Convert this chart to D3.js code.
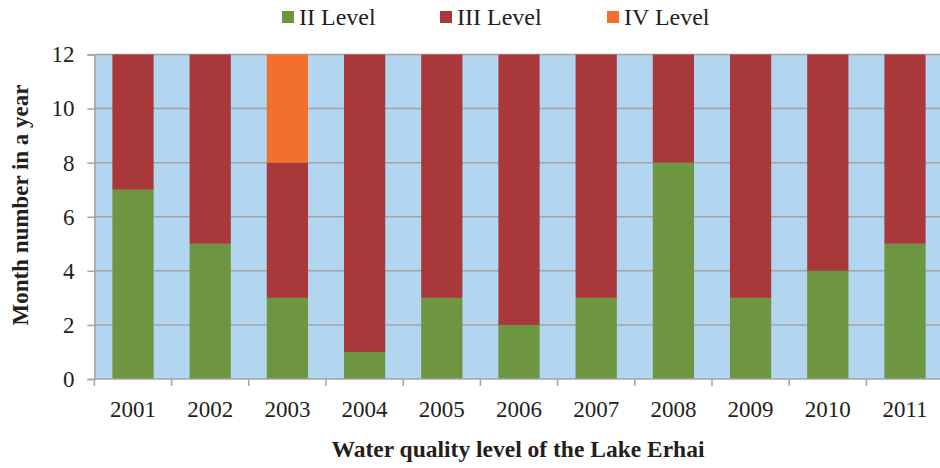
<!DOCTYPE html>
<html>
<head>
<meta charset="utf-8">
<script src="https://cdn.jsdelivr.net/npm/d3@7"></script>
<style>
  html, body { margin: 0; padding: 0; background: #fff; }
  svg { display: block; }
</style>
</head>
<body>
<svg id="chart" width="940" height="468"></svg>
<script>
// Months per year at each water quality level, Lake Erhai 2001-2011
const years = ["2001", "2002", "2003", "2004", "2005", "2006", "2007", "2008", "2009", "2010", "2011"];
const levelII  = [7, 5, 3, 1, 3, 2, 3, 8, 3, 4, 5];
const levelIII = [5, 7, 5, 11, 9, 10, 9, 4, 9, 8, 7];
const levelIV  = [0, 0, 4, 0, 0, 0, 0, 0, 0, 0, 0];
const seriesNames = ["II Level", "III Level", "IV Level"];
const seriesColors = ["#6E9540", "#A9383B", "#F36F2C"];
const yTicks = [0, 2, 4, 6, 8, 10, 12];

const FONT = "Liberation Serif";
const TEXT = "#231F20";
const GRID = "#A3A3A3";

const svg = d3.select("#chart").style("font-family", FONT);
const x0 = 94.4, x1 = 943.6;
const yTop = 54.5, yBot = 379;

const x = d3.scaleBand().domain(years).range([x0, x1]).paddingInner(0.466).paddingOuter(0.233);
const xb = d3.scaleBand().domain(years).range([x0, x1]);
const y = d3.scaleLinear().domain([0, 12]).range([yBot, yTop]);

const rows = years.map((yr, i) => ({ year: yr, s0: levelII[i], s1: levelIII[i], s2: levelIV[i] }));
const stack = d3.stack().keys(["s0", "s1", "s2"])(rows);

// plot background
svg.append("rect").attr("x", x0).attr("y", yTop).attr("width", x1 - x0).attr("height", yBot - yTop)
  .attr("fill", "#B2D5F0");

// horizontal gridlines
svg.append("g").selectAll("line").data(yTicks.filter(t => t > 0)).join("line")
  .attr("x1", x0).attr("x2", x1).attr("y1", d => y(d)).attr("y2", d => y(d))
  .attr("stroke", GRID).attr("stroke-width", 1.5);

// stacked bars
svg.append("g").selectAll("g").data(stack).join("g")
  .attr("fill", (d, i) => seriesColors[i])
  .selectAll("rect").data(d => d.filter(s => s[1] - s[0] > 0)).join("rect")
  .attr("x", d => x(d.data.year)).attr("width", x.bandwidth())
  .attr("y", d => y(d[1])).attr("height", d => y(d[0]) - y(d[1]));

// y axis
const yAxis = svg.append("g").attr("transform", `translate(${x0},0)`)
  .call(d3.axisLeft(y).tickValues(yTicks).tickSize(7).tickPadding(13));
yAxis.attr("font-family", FONT);
yAxis.select(".domain").attr("stroke", GRID).attr("stroke-width", 1.5);
yAxis.selectAll(".tick line").attr("stroke", GRID).attr("stroke-width", 1.5);
yAxis.selectAll(".tick text").style("font-family", FONT).style("font-size", "23px").attr("fill", TEXT);

// x axis with ticks at category boundaries
const xAxisG = svg.append("g").attr("transform", `translate(0,${yBot})`);
xAxisG.append("line").attr("x1", x0).attr("x2", x1).attr("stroke", GRID).attr("stroke-width", 1.5);
xAxisG.selectAll("line.tk").data(years).join("line").attr("class", "tk")
  .attr("x1", d => xb(d)).attr("x2", d => xb(d)).attr("y1", 0).attr("y2", 7)
  .attr("stroke", GRID).attr("stroke-width", 1.5);
xAxisG.selectAll("text").data(years).join("text")
  .attr("x", d => xb(d) + xb.bandwidth() / 2).attr("y", 38)
  .attr("text-anchor", "middle").style("font-family", FONT).style("font-size", "23px").attr("fill", TEXT)
  .text(d => d);

// axis titles
svg.append("text").attr("transform", `translate(28,205) rotate(-90)`)
  .attr("text-anchor", "middle").style("font-family", FONT).style("font-size", "23px")
  .style("font-weight", "bold").attr("fill", TEXT)
  .text("Month number in a year");
svg.append("text").attr("x", 518).attr("y", 457)
  .attr("text-anchor", "middle").style("font-family", FONT).style("font-size", "23.5px")
  .style("font-weight", "bold").attr("fill", TEXT)
  .text("Water quality level of the Lake Erhai");

// legend
const legendX = [282, 440, 607];
const lg = svg.append("g").selectAll("g").data(seriesNames).join("g")
  .attr("transform", (d, i) => `translate(${legendX[i]},11)`);
lg.append("rect").attr("width", 12).attr("height", 12).attr("fill", (d, i) => seriesColors[i]);
lg.append("text").attr("x", 17).attr("y", 14).style("font-family", FONT).style("font-size", "24px")
  .attr("fill", TEXT).text(d => d);
</script>
</body>
</html>
